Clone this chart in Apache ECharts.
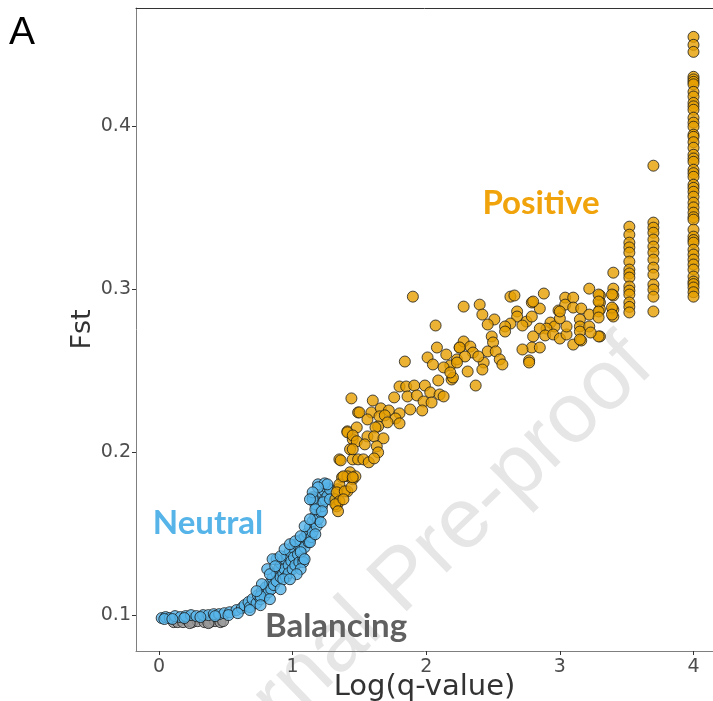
<!DOCTYPE html>
<html>
<head>
<meta charset="utf-8">
<script src="https://cdn.jsdelivr.net/npm/echarts@6/dist/echarts.min.js"></script>
<style>
  html, body { margin: 0; padding: 0; background: #fff; }
  #fstChart { width: 713px; height: 701px; }
</style>
</head>
<body>
<div id="fstChart"></div>
<script>
// tick labels
var xTicks = [0, 1, 2, 3, 4];
var yTicks = [0.1, 0.2, 0.3, 0.4];

// Balancing (grey)
var balancing = [
    [0.11, 0.0957], [0.14, 0.0957], [0.18, 0.0957], [0.22, 0.0963], [0.25, 0.0957],
    [0.29, 0.0963], [0.34, 0.0957], [0.38, 0.0957], [0.42, 0.0963], [0.46, 0.0957],
    [0.48, 0.0963], [0.23, 0.0951], [0.37, 0.0951]
];

// Neutral (blue)
var neutral = [
    [0.02, 0.0982], [0.05, 0.0988], [0.08, 0.0982], [0.12, 0.0994], [0.16, 0.0988],
    [0.20, 0.0994], [0.24, 0.1000], [0.28, 0.0994], [0.33, 0.1000], [0.37, 0.1000],
    [0.41, 0.1006], [0.45, 0.1006], [0.49, 0.1012], [0.53, 0.1018], [0.58, 0.1031],
    [0.62, 0.1043], [0.04, 0.0976], [0.10, 0.0976], [0.19, 0.0982], [0.31, 0.0988],
    [0.42, 0.0994], [0.52, 0.1000], [0.59, 0.1012],
    [0.64, 0.1061], [0.67, 0.1080], [0.68, 0.1049], [0.70, 0.1098], [0.73, 0.1073],
    [0.74, 0.1122], [0.76, 0.1098], [0.77, 0.1147], [0.79, 0.1116], [0.80, 0.1171],
    [0.82, 0.1141], [0.83, 0.1196], [0.84, 0.1159], [0.85, 0.1227], [0.86, 0.1184],
    [0.88, 0.1257], [0.88, 0.1208], [0.90, 0.1288], [0.91, 0.1233], [0.91, 0.1318],
    [0.93, 0.1257], [0.94, 0.1343], [0.94, 0.1282], [0.95, 0.1233], [0.96, 0.1367],
    [0.97, 0.1306], [0.97, 0.1257], [0.98, 0.1392], [0.99, 0.1331], [1.00, 0.1282],
    [1.00, 0.1416], [1.01, 0.1355], [1.02, 0.1306], [1.03, 0.1435], [1.04, 0.1373],
    [1.05, 0.1325], [1.06, 0.1459], [1.06, 0.1398], [1.08, 0.1349], [1.09, 0.1478],
    [1.09, 0.1416], [1.11, 0.1502], [1.12, 0.1447], [1.13, 0.1539], [1.14, 0.1478],
    [1.15, 0.1576], [1.15, 0.1508], [1.17, 0.1606], [1.18, 0.1545], [1.18, 0.1649],
    [1.19, 0.1588], [1.20, 0.1692], [1.21, 0.1631], [1.21, 0.1729], [1.22, 0.1667],
    [1.24, 0.1759], [1.24, 0.1710], [1.26, 0.1778], [1.26, 0.1729], [1.28, 0.1772],
    [1.17, 0.1680], [1.15, 0.1723], [0.93, 0.1220], [0.88, 0.1343], [0.85, 0.1343],
    [0.81, 0.1282], [0.76, 0.1116], [1.06, 0.1386], [1.08, 0.1325], [1.23, 0.1692],
    [1.15, 0.1710], [1.19, 0.1802], [1.24, 0.1808],
    [0.83, 0.1251], [0.87, 0.1300], [0.91, 0.1361], [0.94, 0.1404], [0.98, 0.1435],
    [1.02, 0.1453], [1.06, 0.1484], [1.09, 0.1545], [1.13, 0.1588], [0.77, 0.1190],
    [0.73, 0.1147], [1.06, 0.1282], [1.09, 0.1343], [1.13, 0.1447], [1.17, 0.1496],
    [1.21, 0.1570], [1.03, 0.1251], [0.98, 0.1220], [0.91, 0.1159], [0.83, 0.1098],
    [0.76, 0.1061], [0.68, 0.1031], [1.26, 0.1802], [1.19, 0.1784], [1.15, 0.1753],
    [1.13, 0.1710], [1.17, 0.1649], [1.22, 0.1637], [1.28, 0.1710]
];

// Positive (orange), scattered part
var positive = [
    [1.44, 0.2329], [1.49, 0.2243], [1.41, 0.2127], [1.45, 0.2078], [1.43, 0.2017],
    [1.45, 0.1955], [1.35, 0.1955], [1.43, 0.1876], [1.37, 0.1845], [1.34, 0.1772],
    [1.41, 0.1759], [1.32, 0.1710], [1.33, 0.1667], [1.35, 0.1802], [1.41, 0.1851],
    [1.45, 0.1833], [1.47, 0.1851], [1.33, 0.1753], [1.39, 0.1759], [1.44, 0.1784],
    [1.35, 0.1698], [1.32, 0.1680], [1.38, 0.1710], [1.34, 0.1637],
    [1.90, 0.2953], [2.07, 0.2776], [2.08, 0.2641], [1.84, 0.2555], [2.01, 0.2580],
    [2.05, 0.2537], [2.15, 0.2598], [2.18, 0.2531], [2.23, 0.2568], [2.13, 0.2519],
    [2.19, 0.2445], [2.09, 0.2439], [2.25, 0.2641], [1.80, 0.2402], [1.85, 0.2402],
    [1.91, 0.2408], [1.99, 0.2408], [1.86, 0.2341], [1.93, 0.2347], [2.03, 0.2366],
    [2.10, 0.2353], [2.13, 0.2341], [1.98, 0.2310], [2.04, 0.2304], [1.97, 0.2255],
    [1.76, 0.2335], [1.60, 0.2316], [1.50, 0.2243], [1.59, 0.2243], [1.66, 0.2268],
    [1.72, 0.2255], [1.80, 0.2237], [1.88, 0.2261], [1.56, 0.2200], [1.65, 0.2219],
    [1.69, 0.2225], [1.77, 0.2206], [1.71, 0.2182], [1.64, 0.2157], [1.80, 0.2176],
    [1.48, 0.2151], [1.41, 0.2121], [1.45, 0.2102], [1.62, 0.2151], [1.56, 0.2096],
    [1.61, 0.2096], [1.68, 0.2084], [1.48, 0.2066], [1.54, 0.2047], [1.63, 0.2035],
    [1.45, 0.2017], [1.64, 0.1998], [1.49, 0.1955], [1.53, 0.1955], [1.57, 0.1937],
    [1.61, 0.1961], [1.36, 0.1949], [1.38, 0.1851], [1.45, 0.1845],
    [2.28, 0.2892], [2.40, 0.2904], [2.42, 0.2843], [2.51, 0.2813], [2.46, 0.2782],
    [2.63, 0.2953], [2.66, 0.2960], [2.88, 0.2972], [2.79, 0.2917], [2.85, 0.2880],
    [2.68, 0.2862], [2.68, 0.2831], [2.75, 0.2800], [2.79, 0.2831], [2.63, 0.2788],
    [2.59, 0.2770], [2.59, 0.2739], [2.72, 0.2776], [2.99, 0.2868], [3.04, 0.2947],
    [3.10, 0.2947], [3.04, 0.2904], [3.10, 0.2886], [3.16, 0.2880], [3.22, 0.3002],
    [3.30, 0.2960], [3.30, 0.2917], [3.30, 0.2874], [3.40, 0.3002], [3.40, 0.2960],
    [3.40, 0.2874], [3.40, 0.2831], [3.22, 0.2843], [3.15, 0.2813], [3.15, 0.2770],
    [3.15, 0.2739], [3.22, 0.2770], [3.30, 0.2709], [3.10, 0.2659], [3.16, 0.2684],
    [2.93, 0.2794], [2.96, 0.2770], [2.90, 0.2757], [2.85, 0.2757], [2.89, 0.2715],
    [2.95, 0.2721], [3.00, 0.2696], [3.05, 0.2721], [3.05, 0.2770], [3.00, 0.2819],
    [2.80, 0.2709], [2.79, 0.2641], [2.85, 0.2641], [2.72, 0.2629], [2.77, 0.2562],
    [2.77, 0.2549], [2.49, 0.2709], [2.50, 0.2672], [2.46, 0.2617], [2.52, 0.2617],
    [2.55, 0.2568], [2.57, 0.2537], [2.43, 0.2549], [2.42, 0.2506], [2.28, 0.2678],
    [2.33, 0.2647], [2.25, 0.2641], [2.35, 0.2610], [2.39, 0.2586], [2.29, 0.2586],
    [2.23, 0.2549], [2.31, 0.2494], [2.20, 0.2457], [2.37, 0.2408], [2.18, 0.2488],
    [3.40, 0.3100], [3.39, 0.2966], [3.39, 0.2886], [3.39, 0.2843], [3.29, 0.2966],
    [3.29, 0.2923], [3.29, 0.2862], [3.29, 0.2825], [3.29, 0.2709], [2.80, 0.2923],
    [3.00, 0.2862], [3.15, 0.2690], [3.23, 0.2733]
];

// Positive (orange), vertical stacks at the largest q-values
var stackX = [3.52, 3.70, 4.00];
var stackY = [
    [0.3382, 0.3333, 0.3284, 0.3255, 0.3223, 0.3168, 0.3119, 0.3095, 0.3070, 0.3015,
     0.2990, 0.2966, 0.2917, 0.2890, 0.2856],
    [0.3756, 0.3407, 0.3376, 0.3345, 0.3303, 0.3260, 0.3223, 0.3180, 0.3131, 0.3088,
     0.3027, 0.2996, 0.2953, 0.2862],
    [0.4546, 0.4497, 0.4454, 0.4301, 0.4285, 0.4270, 0.4255, 0.4209, 0.4180, 0.4141,
     0.4120, 0.4099, 0.4050, 0.4020, 0.3995, 0.3946, 0.3933, 0.3900, 0.3866, 0.3823,
     0.3800, 0.3780, 0.3731, 0.3710, 0.3688, 0.3639, 0.3620, 0.3596, 0.3566, 0.3529,
     0.3500, 0.3468, 0.3440, 0.3425, 0.3364, 0.3321, 0.3300, 0.3284, 0.3241, 0.3211,
     0.3180, 0.3150, 0.3119, 0.3076, 0.3045, 0.3030, 0.3009, 0.2980, 0.2953]
];

var positiveAll = positive.slice();
stackX.forEach(function (x, i) {
    stackY[i].forEach(function (y) { positiveAll.push([x, y]); });
});

var fstChart = echarts.init(document.getElementById('fstChart'));

function pointStyle(color) {
    return {
        color: color,
        borderColor: '#1a1a1a',
        borderWidth: 1
    };
}

option = {
    animation: false,
    backgroundColor: '#ffffff',
    grid: {
        left: 136,
        right: 0,
        top: 8,
        bottom: 50,
        containLabel: false,
        outerBoundsMode: 'none'
    },
    graphic: [
        {
            // watermark
            type: 'text', z: 0, x: 404, y: 581, rotation: 0.77,
            style: {
                text: 'Journal Pre-proof', fontSize: 85, fill: '#e6e6e6',
                fontFamily: 'Liberation Sans', align: 'center', verticalAlign: 'middle'
            }
        },
        {
            type: 'text', left: 9, top: 14, z: 10,
            style: { text: 'A', fontSize: 39, fill: '#000', fontFamily: 'Liberation Sans' }
        },
        {
            type: 'text', z: 10, x: 541, y: 203,
            style: {
                text: 'Positive', fontSize: 33, fontWeight: 'bold', fill: '#f0a30a',
                fontFamily: 'Lato', align: 'center', verticalAlign: 'middle'
            }
        },
        {
            type: 'text', z: 10, x: 208, y: 523,
            style: {
                text: 'Neutral', fontSize: 33, fontWeight: 'bold', fill: '#56b4e9',
                fontFamily: 'Lato', align: 'center', verticalAlign: 'middle'
            }
        },
        {
            type: 'text', z: 10, x: 336, y: 626,
            style: {
                text: 'Balancing', fontSize: 33, fontWeight: 'bold', fill: '#606060',
                fontFamily: 'Lato', align: 'center', verticalAlign: 'middle'
            }
        }
    ],
    xAxis: [
        {
            type: 'value',
            min: -0.172,
            max: 4.146,
            name: 'Log(q-value)',
            nameLocation: 'middle',
            nameGap: 22,
            nameMoveOverlap: false,
            nameTextStyle: { fontSize: 29, color: '#333', fontFamily: 'DejaVu Sans' },
            axisLine: { show: true, onZero: false, lineStyle: { color: '#7f7f7f', width: 1 } },
            axisTick: { show: true, length: 4, lineStyle: { color: '#333' }, customValues: xTicks },
            axisLabel: {
                margin: 7, fontSize: 19, color: '#4d4d4d', fontFamily: 'DejaVu Sans',
                customValues: xTicks,
                formatter: function (v) { return String(Math.round(v)); }
            },
            splitLine: { show: false }
        },
        {
            type: 'value',
            position: 'top',
            min: -0.172,
            max: 4.146,
            axisLine: { show: true, onZero: false, lineStyle: { color: '#333', width: 1 } },
            axisTick: { show: false },
            axisLabel: { show: false },
            splitLine: { show: false }
        }
    ],
    yAxis: {
        type: 'value',
        min: 0.078,
        max: 0.4723,
        name: 'Fst',
        nameLocation: 'middle',
        nameGap: 40,
        nameMoveOverlap: false,
        nameTextStyle: { fontSize: 27, color: '#333', fontFamily: 'DejaVu Sans' },
        axisLine: { show: true, onZero: false, lineStyle: { color: '#7f7f7f', width: 1 } },
        axisTick: { show: true, length: 4, lineStyle: { color: '#333' }, customValues: yTicks },
        axisLabel: {
            margin: 5, fontSize: 19, color: '#4d4d4d', fontFamily: 'DejaVu Sans',
            verticalAlign: 'middle',
            padding: [0, 0, 12, 0],
            customValues: yTicks,
            formatter: function (v) { return v.toFixed(1); }
        },
        splitLine: { show: false }
    },
    series: [
        {
            name: 'Balancing',
            type: 'scatter',
            symbol: 'circle',
            symbolSize: 11,
            itemStyle: pointStyle('#999999'),
            data: balancing
        },
        {
            name: 'Neutral',
            type: 'scatter',
            symbol: 'circle',
            symbolSize: 11,
            itemStyle: pointStyle('#56b4e9'),
            data: neutral
        },
        {
            name: 'Positive',
            type: 'scatter',
            symbol: 'circle',
            symbolSize: 11,
            itemStyle: pointStyle('#e69f00'),
            data: positiveAll
        }
    ]
};

fstChart.setOption(option);
</script>
</body>
</html>
